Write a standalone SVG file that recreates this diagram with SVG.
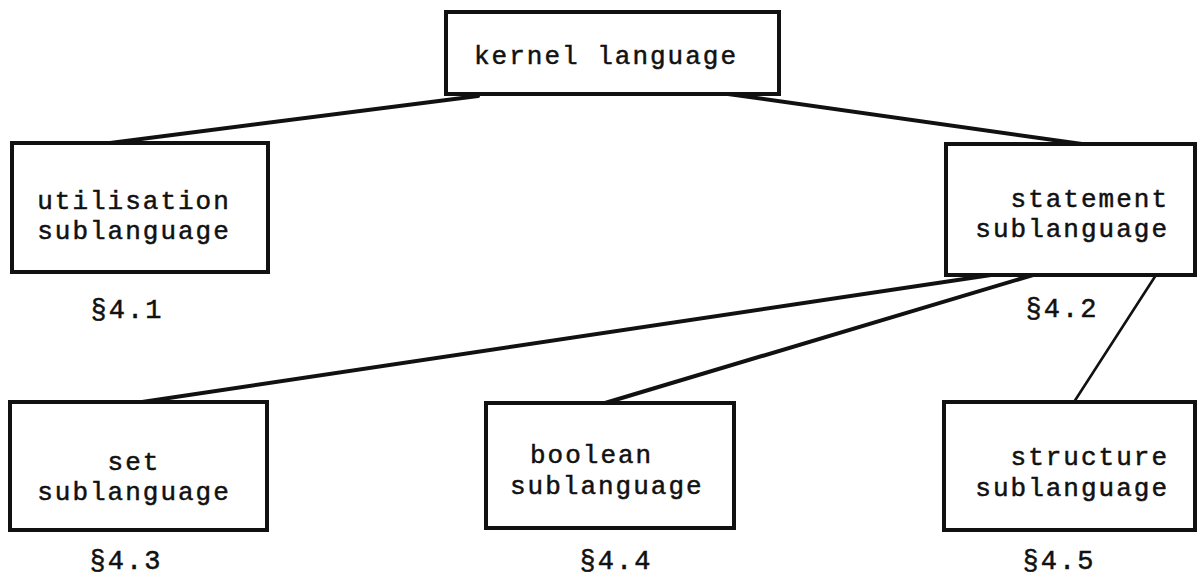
<svg xmlns="http://www.w3.org/2000/svg" width="1200" height="579" viewBox="0 0 1200 579">
  <style>
    .box { fill: #ffffff; stroke: #111111; stroke-width: 4; }
    .edge { stroke: #111111; stroke-width: 4; stroke-linecap: round; fill: none; }
    .edge.thin { stroke-width: 2.6; }
    text { font-family: "Liberation Mono", "DejaVu Sans Mono", monospace; font-size: 26px; letter-spacing: 2px; fill: #111111; stroke: #111111; stroke-width: 0.5; }
    .sec { font-size: 27px; }
  </style>
  <rect width="1200" height="579" fill="#ffffff"/>

  <!-- connectors -->
  <g id="connectors">
    <line class="edge" x1="478" y1="96" x2="110" y2="143"/>
    <line class="edge" x1="728" y1="94" x2="1082" y2="144"/>
    <line class="edge" x1="991" y1="275" x2="142" y2="402"/>
    <line class="edge" x1="1033" y1="275" x2="605" y2="403"/>
    <line class="edge thin" x1="1156" y1="275" x2="1074" y2="402"/>
  </g>

  <g id="kernel">
    <rect class="box" x="446" y="12" width="333" height="82"/>
    <text x="606" y="64" text-anchor="middle">kernel language</text>
  </g>

  <g id="utilisation">
    <rect class="box" x="12" y="143" width="256" height="129"/>
    <text x="134" y="209" text-anchor="middle">utilisation</text>
    <text x="134" y="239" text-anchor="middle">sublanguage</text>
    <text class="sec" x="127" y="318" text-anchor="middle">§4.1</text>
  </g>

  <g id="statement">
    <rect class="box" x="946" y="144" width="249" height="131"/>
    <text x="1169" y="207" text-anchor="end">statement</text>
    <text x="1169" y="237" text-anchor="end">sublanguage</text>
    <text class="sec" x="1062" y="317" text-anchor="middle">§4.2</text>
  </g>

  <g id="set">
    <rect class="box" x="10" y="402" width="257" height="128"/>
    <text x="134" y="470" text-anchor="middle">set</text>
    <text x="134" y="500" text-anchor="middle">sublanguage</text>
    <text class="sec" x="126" y="569" text-anchor="middle">§4.3</text>
  </g>

  <g id="boolean">
    <rect class="box" x="486" y="403" width="248" height="125"/>
    <text x="530" y="463">boolean</text>
    <text x="510" y="494">sublanguage</text>
    <text class="sec" x="616" y="569" text-anchor="middle">§4.4</text>
  </g>

  <g id="structure">
    <rect class="box" x="944" y="402" width="251" height="128"/>
    <text x="1169" y="465" text-anchor="end">structure</text>
    <text x="1169" y="496" text-anchor="end">sublanguage</text>
    <text class="sec" x="1059" y="569" text-anchor="middle">§4.5</text>
  </g>
</svg>
